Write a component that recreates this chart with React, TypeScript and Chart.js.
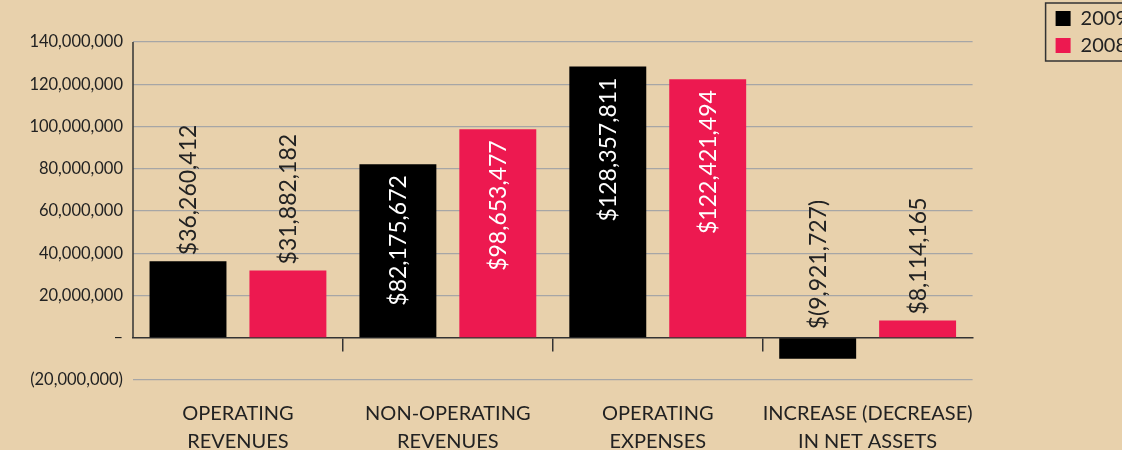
import React, { useEffect, useRef } from 'react';
import { Chart, registerables } from 'chart.js';

Chart.register(...registerables);

// ---- data ----
const categories: string[][] = [
  ['OPERATING', 'REVENUES'],
  ['NON-OPERATING', 'REVENUES'],
  ['OPERATING', 'EXPENSES'],
  ['INCREASE (DECREASE)', 'IN NET ASSETS'],
];
const seriesNames = ['2009', '2008'];
const values2009 = [36260412, 82175672, 128357811, -9921727];
const values2008 = [31882182, 98653477, 122421494, 8114165];
const yMin = -20000000;
const yMax = 140000000;
const yStep = 20000000;

// ---- styles ----
const BG = '#E8D1AC';
const BLACK = '#000000';
const PINK = '#ED1950';
const TEXT = '#222222';
const GRID = '#a6a6a6';
const AXIS = '#333333';
const FONT = 'Lato, "Open Sans", sans-serif';

const fmt = (n: number) => Math.abs(n).toLocaleString('en-US');
const fmtAxis = (v: number) => (v === 0 ? '–' : v < 0 ? '(' + fmt(v) + ')' : fmt(v));
const fmtMoney = (v: number) => (v < 0 ? '$(' + fmt(v) + ')' : '$' + fmt(v));

const axisLinePlugin = {
  id: 'axisLine',
  beforeDatasetsDraw(chart: any) {
    const { ctx, chartArea, scales } = chart;
    const y = scales.y;
    ctx.save();
    ctx.strokeStyle = AXIS;
    ctx.lineWidth = 1.5;
    ctx.beginPath();
    ctx.moveTo(chartArea.left, y.getPixelForValue(y.max));
    ctx.lineTo(chartArea.left, y.getPixelForValue(0));
    ctx.stroke();
    ctx.restore();
  },
};

const legendBorderPlugin = {
  id: 'legendBorder',
  afterDraw(chart: any) {
    const lg = chart.legend;
    if (!lg || !lg.legendHitBoxes || !lg.legendHitBoxes.length) return;
    const hb = lg.legendHitBoxes;
    const first = hb[0];
    const last = hb[hb.length - 1];
    const x0 = first.left - 10;
    const y0 = first.top - 5.5;
    const y1 = last.top + last.height + 5.5;
    const x1 = lg.right + 20;
    const ctx = chart.ctx;
    ctx.save();
    ctx.strokeStyle = AXIS;
    ctx.lineWidth = 1.5;
    ctx.strokeRect(x0, y0, x1 - x0, y1 - y0);
    ctx.restore();
  },
};

const valueLabelPlugin = {
  id: 'valueLabels',
  afterDatasetsDraw(chart: any) {
    const ctx = chart.ctx;
    chart.data.datasets.forEach((ds: any, di: number) => {
      const meta = chart.getDatasetMeta(di);
      meta.data.forEach((bar: any, i: number) => {
        const v = ds.data[i] as number;
        const text = fmtMoney(v);
        const { x, y, base } = bar.getProps(['x', 'y', 'base'], true);
        ctx.save();
        ctx.font = '23px ' + FONT;
        const w = ctx.measureText(text).width;
        const h = Math.abs(base - y);
        let py: number;
        let align: CanvasTextAlign;
        let color = TEXT;
        if (v < 0) {
          py = base - 9;
          align = 'left';
        } else if (h > w + 24) {
          py = y + 11;
          align = 'right';
          color = '#ffffff';
        } else {
          py = y - 6;
          align = 'left';
        }
        ctx.translate(x, py);
        ctx.rotate(-Math.PI / 2);
        ctx.textAlign = align;
        ctx.textBaseline = 'middle';
        ctx.fillStyle = color;
        ctx.fillText(text, 0, 1);
        ctx.restore();
      });
    });
  },
};

export default function App() {
  const ref = useRef<HTMLCanvasElement | null>(null);

  useEffect(() => {
    if (!ref.current) return;
    Chart.defaults.font.family = FONT;
    const chart = new Chart(ref.current, {
      type: 'bar',
      data: {
        labels: categories,
        datasets: [
          {
            label: seriesNames[0],
            data: values2009,
            backgroundColor: BLACK,
            borderWidth: 0,
            categoryPercentage: 0.952,
            barPercentage: 0.77,
          },
          {
            label: seriesNames[1],
            data: values2008,
            backgroundColor: PINK,
            borderWidth: 0,
            categoryPercentage: 0.952,
            barPercentage: 0.77,
          },
        ],
      },
      options: {
        responsive: false,
        animation: false,
        events: [],
        layout: { padding: { top: 1.5, left: 0, right: 0, bottom: 0 } },
        plugins: {
          title: {
            display: true,
            text: '',
            padding: { top: 0, bottom: 21.3 },
            font: { size: 16, lineHeight: 1.2 },
          },
          legend: {
            position: 'right',
            align: 'start',
            labels: {
              color: TEXT,
              font: { size: 20 },
              boxWidth: 15,
              boxHeight: 15,
              padding: 7,
            },
          },
          tooltip: { enabled: false },
        },
        scales: {
          x: {
            type: 'category',
            position: 'bottom',
            offset: true,
            grid: { display: false, drawTicks: false },
            border: { display: false },
            ticks: {
              color: TEXT,
              font: { size: 20, lineHeight: 1.4 },
              padding: 20,
              maxRotation: 0,
              autoSkip: false,
            },
            afterFit: (s: any) => {
              s.height = 70;
            },
          },
          x2: {
            type: 'category',
            axis: 'x',
            position: { y: 0 },
            offset: true,
            grid: {
              offset: true,
              drawOnChartArea: false,
              drawTicks: true,
              tickLength: 13,
              lineWidth: 1.5,
              color: (c: any) => (c.type === 'tick' && c.index > 0 ? AXIS : 'rgba(0,0,0,0)'),
            },
            border: { display: true, color: AXIS, width: 1.5 },
            ticks: { display: false },
          },
          y: {
            type: 'linear',
            position: 'left',
            min: yMin,
            max: yMax,
            ticks: {
              stepSize: yStep,
              padding: 10,
              color: TEXT,
              font: { size: 16.5 },
              callback: (v: any) => fmtAxis(Number(v)),
            },
            grid: {
              drawTicks: false,
              lineWidth: 1.2,
              color: (c: any) => (c.tick && c.tick.value === 0 ? 'rgba(0,0,0,0)' : GRID),
            },
            border: { display: false },
            afterFit: (s: any) => {
              s.width = 133;
            },
          },
          yr: {
            type: 'linear',
            axis: 'y',
            position: 'right',
            grid: { display: false, drawTicks: false },
            border: { display: false },
            ticks: { display: false },
            afterFit: (s: any) => {
              s.width = 76;
            },
          },
        },
      } as any,
      plugins: [axisLinePlugin, valueLabelPlugin, legendBorderPlugin],
    });
    return () => chart.destroy();
  }, []);

  return (
    <div
      style={{
        position: 'fixed',
        left: 0,
        top: 0,
        width: 1122,
        height: 450,
        overflow: 'hidden',
        background: BG,
      }}
    >
      <canvas ref={ref} width={1137} height={450} style={{ display: 'block', width: 1137, height: 450 }} />
    </div>
  );
}
